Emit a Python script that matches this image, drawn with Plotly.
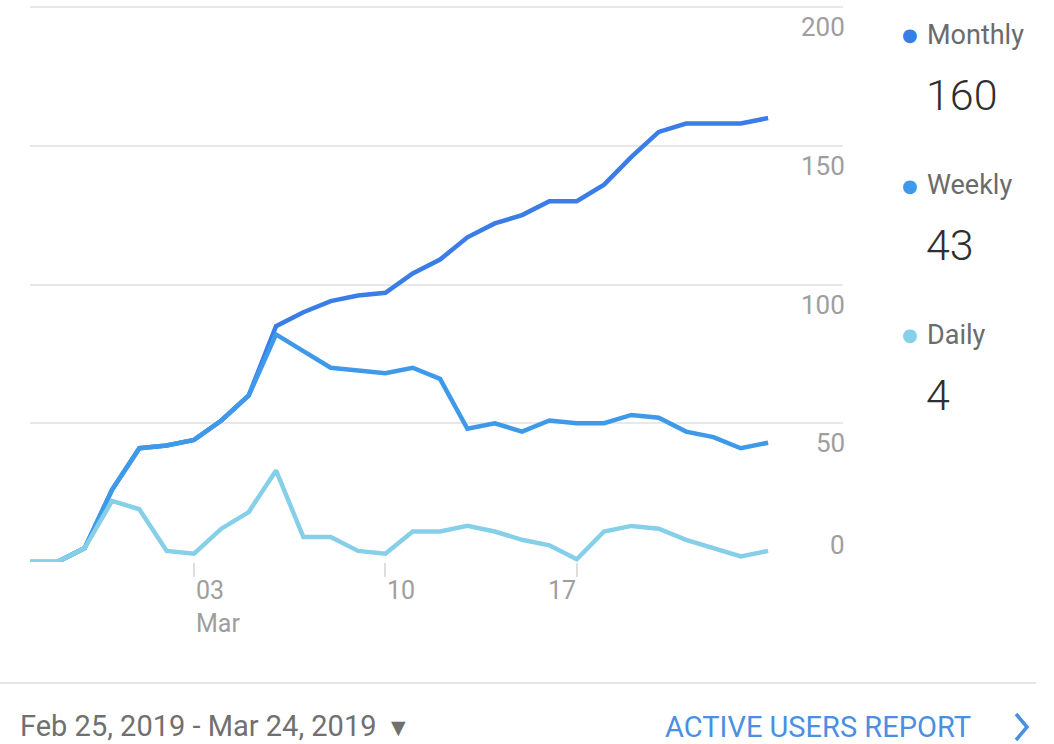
import datetime as dt
import plotly.graph_objects as go

# ---- data ----
start_date = dt.datetime(2019, 2, 25)
dates = [start_date + dt.timedelta(days=i) for i in range(28)]  # Feb 25 .. Mar 24, 2019

monthly = [0, 0, 5, 26, 41, 42, 44, 51, 60, 85, 90, 94, 96, 97, 104, 109, 117, 122, 125, 130,
           130, 136, 146, 155, 158, 158, 158, 160]
weekly = [0, 0, 5, 26, 41, 42, 44, 51, 60, 82, 76, 70, 69, 68, 70, 66, 48, 50, 47, 51,
          50, 50, 53, 52, 47, 45, 41, 43]
daily = [0, 0, 5, 22, 19, 4, 3, 12, 18, 33, 9, 9, 4, 3, 11, 11, 13, 11, 8, 6,
         1, 11, 13, 12, 8, 5, 2, 4]

series_names = ["Monthly", "Weekly", "Daily"]
series_values = [monthly, weekly, daily]
series_totals = ["160", "43", "4"]

y_ticks = [0, 50, 100, 150, 200]
x_tick_dates = [dt.datetime(2019, 3, 3), dt.datetime(2019, 3, 10), dt.datetime(2019, 3, 17)]
x_tick_labels = ["03<br>Mar", "10", "17"]
date_range_text = "Feb 25, 2019 - Mar 24, 2019"
report_text = "ACTIVE USERS REPORT"

# ---- styles ----
W, H = 1054, 744
colors = ["#3a7de7", "#3e9ae9", "#86cfe8"]
grid_color = "#e8e8e8"
label_gray = "#9e9e9e"
font_family = "Roboto, Arial, sans-serif"


def px(x):
    return x / W


def py(y):
    return 1 - y / H


fig = go.Figure()

for name, vals, col in zip(series_names, series_values, colors):
    fig.add_trace(go.Scatter(
        x=dates, y=vals, mode="lines", name=name,
        line=dict(color=col, width=4.5), hoverinfo="skip",
    ))

x_end = start_date + dt.timedelta(hours=29.74 * 24)
y_top = 200 * 558 / 555

fig.update_layout(
    width=W, height=H, autosize=False,
    margin=dict(l=0, r=0, t=0, b=0),
    paper_bgcolor="white", plot_bgcolor="white",
    showlegend=False,
    font=dict(family=font_family),
    xaxis=dict(
        type="date",
        range=[start_date.isoformat(), x_end.isoformat()],
        domain=[px(30), px(843)],
        showgrid=False, zeroline=False, showline=False,
        tickvals=[d.isoformat() for d in x_tick_dates],
        ticks="outside", ticklen=14, tickwidth=1.5, tickcolor="#dedede",
        showticklabels=False, fixedrange=True,
    ),
    yaxis=dict(
        range=[0, y_top],
        domain=[py(562), py(4)],
        tickvals=y_ticks,
        showgrid=True, gridcolor=grid_color, gridwidth=2,
        zeroline=False, showline=False, showticklabels=False,
        fixedrange=True,
    ),
)

# small gap in gridlines between plot and y labels
fig.add_shape(type="rect", xref="paper", yref="paper",
              x0=px(771), x1=px(775), y0=py(566), y1=py(2),
              fillcolor="white", line=dict(width=0), layer="between")

annotations = []

# y tick labels (right side)
for v in y_ticks:
    annotations.append(dict(
        x=px(847), xref="paper", y=v, yref="y",
        text=str(v), showarrow=False, xanchor="right", yanchor="middle",
        yshift=(17 if v == 0 else -20),
        font=dict(size=26, color=label_gray, family=font_family),
    ))

# x tick labels
x_anchor = ["left", "left", "right"]
x_shift = [0, 0, 1]
for d, lab, anc, sh in zip(x_tick_dates, x_tick_labels, x_anchor, x_shift):
    annotations.append(dict(
        x=d.isoformat(), xref="x", y=py(574), yref="paper",
        text=lab, showarrow=False, xanchor=anc, yanchor="top", xshift=sh,
        align="left",
        font=dict(size=25, color=label_gray, family=font_family),
    ))

# legend with totals
legend_y = [35, 185, 335]
for name, total, col, ly in zip(series_names, series_totals, colors, legend_y):
    annotations.append(dict(
        x=px(910), xref="paper", y=py(ly), yref="paper",
        text="●", showarrow=False, xanchor="center", yanchor="middle",
        font=dict(size=18, color=col, family="DejaVu Sans"),
    ))
    annotations.append(dict(
        x=px(925), xref="paper", y=py(ly), yref="paper",
        text=name, showarrow=False, xanchor="left", yanchor="middle",
        font=dict(size=27, color="#6b6b6b", family=font_family),
    ))
    annotations.append(dict(
        x=px(924), xref="paper", y=py(ly + 60), yref="paper",
        text=total, showarrow=False, xanchor="left", yanchor="middle",
        font=dict(size=43, color="#2f2f2f", family=font_family, weight=300),
    ))

# footer
annotations.append(dict(
    x=px(18), xref="paper", y=py(726), yref="paper",
    text=date_range_text, showarrow=False, xanchor="left", yanchor="middle",
    font=dict(size=29, color="#707070", family=font_family),
))
annotations.append(dict(
    x=px(389), xref="paper", y=py(727), yref="paper",
    text="▼", showarrow=False, xanchor="left", yanchor="middle",
    font=dict(size=19, color="#707070", family="DejaVu Sans"),
))
annotations.append(dict(
    x=px(973), xref="paper", y=py(727), yref="paper",
    text=report_text, showarrow=False, xanchor="right", yanchor="middle",
    font=dict(size=29, color="#4a8fe2", family=font_family),
))

fig.update_layout(annotations=annotations)

# footer divider
fig.add_shape(type="line", xref="paper", yref="paper",
              x0=0, x1=px(1036), y0=py(683), y1=py(683),
              line=dict(color="#dcdcdc", width=1.5))

# chevron next to the report link
fig.add_shape(type="path", xref="paper", yref="paper",
              path=f"M {px(1016)} {py(714)} L {px(1027)} {py(727)} L {px(1016)} {py(740)}",
              line=dict(color="#4a8fe2", width=3.5))

fig.write_html(
    "out.html",
    config={"displayModeBar": False},
    post_script="document.body.style.margin='0px';document.body.style.overflow='hidden';",
)
